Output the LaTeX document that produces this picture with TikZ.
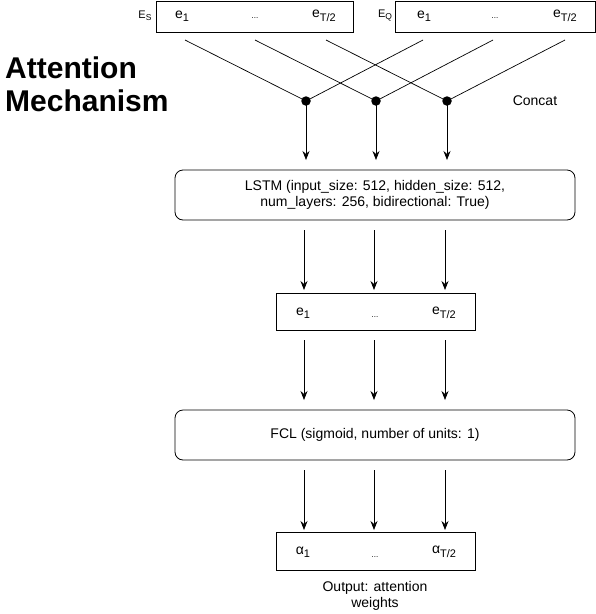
\documentclass[tikz,border=0pt]{standalone}
\usepackage{fontspec}
\setmainfont{Liberation Sans}
\usetikzlibrary{arrows.meta}
\newcommand{\sbs}[1]{\raisebox{-3.5pt}{\fontsize{11}{12}\selectfont #1}}
\begin{document}
\begin{tikzpicture}[x=1pt,y=-1pt,
  txt/.style={font=\fontsize{14}{16}\selectfont, inner sep=0pt},
  sq/.style={draw, line width=0.8pt, inner sep=0pt},
  rbox/.style={draw, line width=0.8pt, rounded corners=8pt, inner sep=0pt},
  dot/.style={circle, fill=black, minimum size=9.5pt, inner sep=0pt},
  ln/.style={line width=0.7pt},
  arr/.style={line width=0.7pt, -{Stealth[length=9pt,width=7pt,inset=3pt]}}]
\useasboundingbox (0,0) rectangle (596,614);
% top boxes
\node[sq, minimum width=197pt, minimum height=31pt] (es) at (254.5,16.5) {};
\node[sq, minimum width=200pt, minimum height=31pt] (eq) at (495,16.5) {};
\node[inner sep=0pt, font=\fontsize{11}{12}\selectfont] (eslab) at (145,16) {E\raisebox{-2pt}{\fontsize{8.5}{10}\selectfont S}};
\node[inner sep=0pt, font=\fontsize{11}{12}\selectfont] (eqlab) at (385,16) {E\raisebox{-2pt}{\fontsize{8.5}{10}\selectfont Q}};
\node[txt] (s1) at (182,16) {e\sbs{1}};
\node[txt] (s2) at (255,18) {\fontsize{8}{10}\selectfont...};
\node[txt] (s3) at (324,16) {e\sbs{T/2}};
\node[txt] (q1) at (424,16) {e\sbs{1}};
\node[txt] (q2) at (495,18) {\fontsize{8}{10}\selectfont...};
\node[txt] (q3) at (565,16) {e\sbs{T/2}};
% line starts
\coordinate (a1) at (185,40);
\coordinate (a2) at (255,40);
\coordinate (a3) at (326,40);
\coordinate (b1) at (423,40);
\coordinate (b2) at (493,40);
\coordinate (b3) at (565,40);
% dots
\node[dot] (d1) at (306,101) {};
\node[dot] (d2) at (376,101) {};
\node[dot] (d3) at (447,101) {};
\draw[ln] (a1) -- (d1.center);
\draw[ln] (a2) -- (d2.center);
\draw[ln] (a3) -- (d3.center);
\draw[ln] (b1) -- (d1.center);
\draw[ln] (b2) -- (d2.center);
\draw[ln] (b3) -- (d3.center);
\node[txt] (concat) at (535,101) {Concat};
% title
\node[font=\fontsize{30}{33}\selectfont\bfseries, align=left, anchor=north west, inner sep=0pt] (title) at (5,57) {Attention\\Mechanism};
% LSTM box
\node[rbox, minimum width=400pt, minimum height=50pt, align=center, txt] (lstm) at (375,195) {LSTM (input\_size: 512, hidden\_size: 512,\\[0pt]num\_layers: 256, bidirectional: True)};
\draw[arr] (d1.center) -- (306,160);
\draw[arr] (d2.center) -- (376,160);
\draw[arr] (d3.center) -- (447,160);
% e box
\node[sq, minimum width=199pt, minimum height=37pt] (ebox) at (375.5,311.5) {};
\node[txt] (e1) at (303,313) {e\sbs{1}};
\node[txt] (e2) at (375,317) {\fontsize{8}{10}\selectfont...};
\node[txt] (e3) at (444,313) {e\sbs{T/2}};
\coordinate (l1) at (304,230);
\coordinate (l2) at (374,230);
\coordinate (l3) at (445,230);
\draw[arr] (l1) -- (304,290);
\draw[arr] (l2) -- (374,290);
\draw[arr] (l3) -- (445,290);
% FCL box
\node[rbox, minimum width=400pt, minimum height=50pt, txt] (fcl) at (375,435) {FCL (sigmoid, number of units: 1)};
\coordinate (m1) at (304,340);
\coordinate (m2) at (374,340);
\coordinate (m3) at (445,340);
\draw[arr] (m1) -- (304,400);
\draw[arr] (m2) -- (374,400);
\draw[arr] (m3) -- (445,400);
\coordinate (n1) at (304,470);
\coordinate (n2) at (374,470);
\coordinate (n3) at (445,470);
\draw[arr] (n1) -- (304,530);
\draw[arr] (n2) -- (374,530);
\draw[arr] (n3) -- (445,530);
% alpha box
\node[sq, minimum width=199pt, minimum height=38pt] (abox) at (375.5,551) {};
\node[txt] (al1) at (303,552) {α\sbs{1}};
\node[txt] (al2) at (375,557) {\fontsize{8}{10}\selectfont...};
\node[txt] (al3) at (444,552) {α\sbs{T/2}};
\node[txt, align=center] (out) at (375,596) {Output: attention\\[0pt]weights};
\end{tikzpicture}
\end{document}
